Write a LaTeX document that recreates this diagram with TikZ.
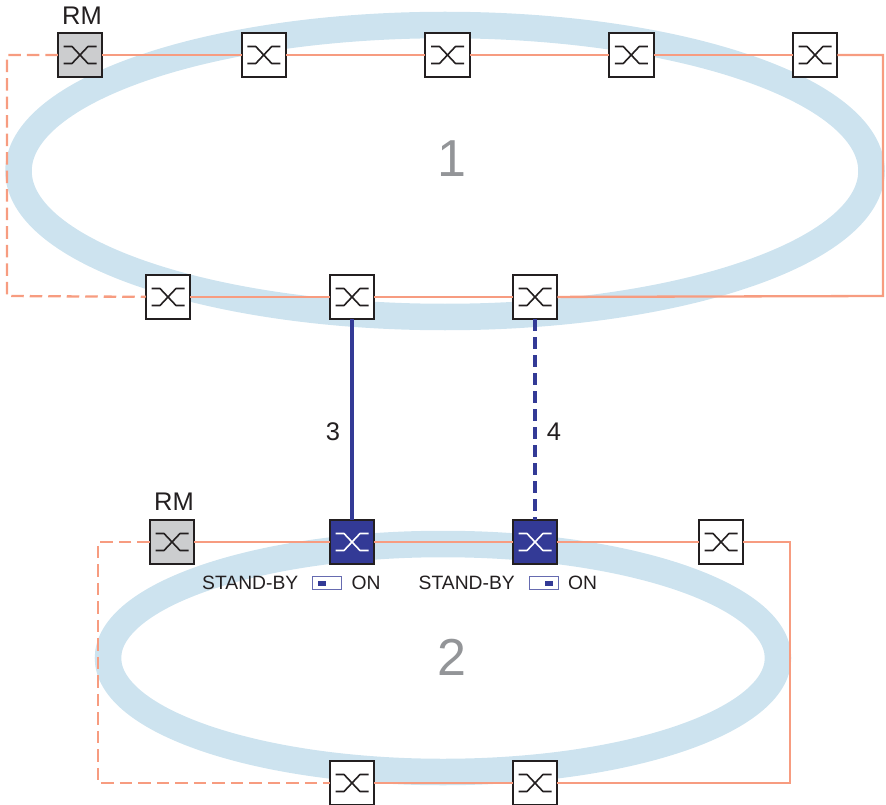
\documentclass[tikz,border=0pt]{standalone}
\usepackage{fontspec}
\setmainfont{Liberation Sans}
\usetikzlibrary{positioning}
\definecolor{ringblue}{HTML}{CDE3EF}
\definecolor{linkorange}{HTML}{F79C80}
\definecolor{coupleblue}{HTML}{333A96}
\definecolor{rmgray}{HTML}{CCCDCF}
\definecolor{darkline}{HTML}{231F20}
\definecolor{bigdigit}{HTML}{939598}
\tikzset{
    swicon/.style={draw=#1, line width=1.6pt, line join=round},
    swbox/.style={rectangle, draw=darkline, line width=2pt, fill=white, minimum size=44.5pt, inner sep=0pt, outer sep=0pt,
        path picture={\draw[swicon=darkline, shift={(path picture bounding box.center)}]
            (-16.5,-8.5) -- (-8,-8.5) -- (8,8.5) -- (16.5,8.5) (-16.5,8.5) -- (-8,8.5) -- (8,-8.5) -- (16.5,-8.5);}},
    rmbox/.style={swbox, fill=rmgray},
    standby/.style={rectangle, draw=darkline, line width=2pt, fill=coupleblue, minimum size=44.5pt, inner sep=0pt, outer sep=0pt,
        path picture={\draw[swicon=white, shift={(path picture bounding box.center)}]
            (-16.5,-8.5) -- (-8,-8.5) -- (8,8.5) -- (16.5,8.5) (-16.5,8.5) -- (-8,8.5) -- (8,-8.5) -- (16.5,-8.5);}},
    ring/.style={draw=ringblue, line width=26.5pt},
    link/.style={draw=linkorange, line width=2.3pt},
    linkopen/.style={link, dash pattern=on 12.5pt off 6pt},
    couple/.style={draw=coupleblue, line width=4.5pt},
    coupleopen/.style={couple, dash pattern=on 12pt off 6pt},
    slider/.style={rectangle, draw=coupleblue!75, line width=1pt, fill=white, minimum width=29pt, minimum height=13pt, inner sep=0pt, outer sep=0pt},
    knob/.style={rectangle, fill=coupleblue, minimum width=8pt, minimum height=5pt, inner sep=0pt, outer sep=0pt},
    small/.style={font=\fontsize{19.3pt}{21pt}\selectfont, text=darkline, inner sep=0pt},
    mid/.style={font=\fontsize{25.5pt}{28pt}\selectfont, text=darkline, inner sep=0pt},
    big/.style={font=\fontsize{52pt}{56pt}\selectfont, text=bigdigit, inner sep=0pt}
}
\begin{document}
\begin{tikzpicture}[x=1pt, y=-1pt]
    \useasboundingbox (0,0) rectangle (886,805);
    % rings
    \draw[ring] (445,171) ellipse [x radius=426.5, y radius=146];
    \draw[ring] (443,658) ellipse [x radius=335, y radius=114];
    \node (one) [big] at (452,159) {1};
    \node (two) [big] at (452,657) {2};
    % upper ring
    \node (a1) [rmbox] at (80,55) { };
    \node (a2) [swbox, right=139.25pt of a1] { };
    \node (a3) [swbox, right=139.25pt of a2] { };
    \node (a4) [swbox, right=139.25pt of a3] { };
    \node (a5) [swbox, right=139.25pt of a4] { };
    \node (b1) [swbox] at (168,297) { };
    \node (b2) [swbox, right=139.5pt of b1] { };
    \node (b3) [swbox, right=138.5pt of b2] { };
    \node (rma) [mid, above=8.5pt of a1, xshift=2pt] {RM};
    % lower ring
    \node (c1) [rmbox] at (172,542) { };
    \node (c2) [standby] at (352,542) { };
    \node (c3) [standby, right=138.5pt of c2] { };
    \node (c4) [swbox, right=141.5pt of c3] { };
    \node (d1) [swbox] at (352,783) { };
    \node (d2) [swbox, right=138.5pt of d1] { };
    \node (rmb) [mid, above=9pt of c1, xshift=2pt] {RM};
    % corners
    \coordinate (nwa) at (7,55);
    \coordinate (swa) at (7,296);
    \coordinate (nea) at (883,55);
    \coordinate (sea) at (883,296);
    \coordinate (nwb) at (98,542);
    \coordinate (swb) at (98,783);
    \coordinate (neb) at (790,542);
    \coordinate (seb) at (790,783);
    % ring links
    \draw[link] (a1) -- (a2);
    \draw[link] (a2) -- (a3);
    \draw[link] (a3) -- (a4);
    \draw[link] (a4) -- (a5);
    \draw[link] (a5) -- (nea) -- (sea) -- (b3);
    \draw[link] (b3) -- (b2);
    \draw[link] (b2) -- (b1);
    \draw[linkopen] (a1) -- (nwa) -- (swa) -- (b1);
    \draw[link] (c1) -- (c2);
    \draw[link] (c2) -- (c3);
    \draw[link] (c3) -- (c4);
    \draw[link] (c4) -- (neb) -- (seb) -- (d2);
    \draw[link] (d2) -- (d1);
    \draw[linkopen] (c1) -- (nwb) -- (swb) -- (d1);
    % coupling lines
    \draw[couple] (b2) -- (c2) node [mid, pos=0.5, xshift=-19pt, yshift=-12.5pt] (three) {3};
    \draw[coupleopen] (b3) -- (c3) node [mid, pos=0.5, xshift=19pt, yshift=-12.5pt] (four) {4};
    % switches
    \node (sl1) [slider] at (327,583) { };
    \node (k1) [knob] at ([xshift=-5pt]sl1.center) { };
    \node (sb1) [small, left=14pt of sl1] {STAND-BY};
    \node (on1) [small, right=10pt of sl1] {ON};
    \node (sl2) [slider] at (543.5,583) { };
    \node (k2) [knob] at ([xshift=5pt]sl2.center) { };
    \node (sb2) [small, left=14pt of sl2] {STAND-BY};
    \node (on2) [small, right=10pt of sl2] {ON};
\end{tikzpicture}
\end{document}
